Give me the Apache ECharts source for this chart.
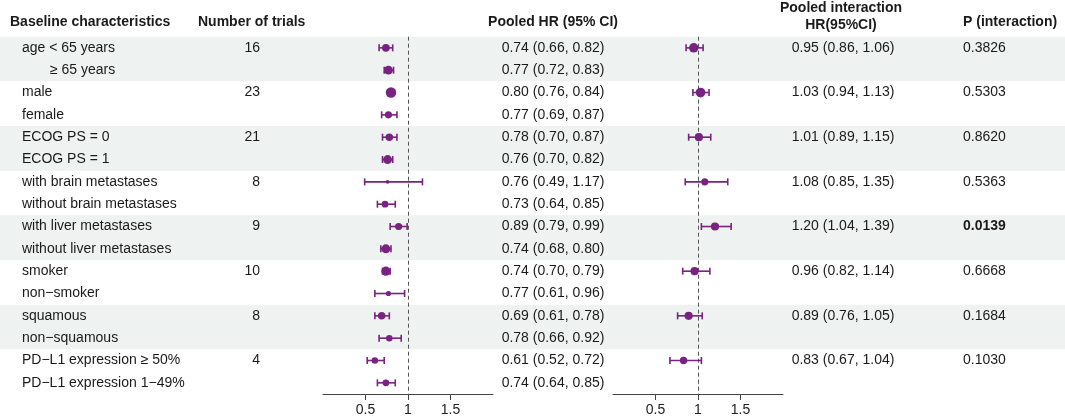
<!DOCTYPE html>
<html>
<head>
<meta charset="utf-8">
<script src="https://cdn.jsdelivr.net/npm/echarts@6/dist/echarts.min.js"></script>
<style>
html,body{margin:0;padding:0;background:#fff;}
#chart{width:1065px;height:419px;}
</style>
</head>
<body>
<div id="chart"></div>
<script>
// ---------------- data ----------------
const labels = ['age < 65 years','≥ 65 years','male','female','ECOG PS = 0','ECOG PS = 1',
  'with brain metastases','without brain metastases','with liver metastases','without liver metastases',
  'smoker','non\u2212smoker','squamous','non\u2212squamous','PD\u2212L1 expression ≥ 50%','PD\u2212L1 expression 1\u221249%'];
const trials = [16,null,23,null,21,null,8,null,9,null,10,null,8,null,4,null];
const pooledHR = [0.74,0.77,0.80,0.77,0.78,0.76,0.76,0.73,0.89,0.74,0.74,0.77,0.69,0.78,0.61,0.74];
const pooledLo = [0.66,0.72,0.76,0.69,0.70,0.70,0.49,0.64,0.79,0.68,0.70,0.61,0.61,0.66,0.52,0.64];
const pooledHi = [0.82,0.83,0.84,0.87,0.87,0.82,1.17,0.85,0.99,0.80,0.79,0.96,0.78,0.92,0.72,0.85];
const pooledWeight = [0.78,0.88,1.04,0.72,0.75,0.88,0.38,0.68,0.72,0.9,0.92,0.52,0.75,0.65,0.65,0.68];
const interactionRows = [0,2,4,6,8,10,12,14];
const interactionHR = [0.95,1.03,1.01,1.08,1.20,0.96,0.89,0.83];
const interactionLo = [0.86,0.94,0.89,0.85,1.04,0.82,0.76,0.67];
const interactionHi = [1.06,1.13,1.15,1.35,1.39,1.14,1.05,1.04];
const interactionWeight = [0.95,0.97,0.82,0.72,0.82,0.82,0.82,0.74];
const pInteraction = ['0.3826','0.5303','0.8620','0.5363','0.0139','0.6668','0.1684','0.1030'];
const shadedGroups = [0,4,8,12];
const tickValues = [0.5,1,1.5];

// ---------------- style ----------------
const PURPLE = '#78237f';
const TXT = '#1a1a1a';
const FONT = "'Liberation Sans', Arial, sans-serif";
const FS = 14;
const W = 1065;
const nRows = labels.length;
const GTOP = 36.7, GH = 357.3;

const fmt = v => v.toFixed(2);
const ci = (h,l,u) => fmt(h) + ' (' + fmt(l) + ', ' + fmt(u) + ')';

const chart = echarts.init(document.getElementById('chart'), null, {renderer:'canvas'});

function yAx(gi){ return {type:'value', gridIndex:gi, min:-0.5, max:nRows-0.5, inverse:true, show:false}; }
function forestX(gi){
  return {type:'value', gridIndex:gi, min:0, max:2, interval:0.5, position:'bottom',
    axisLine:{show:true, onZero:false, lineStyle:{color:'#444', width:1}},
    axisTick:{show:true, customValues:tickValues, length:6, lineStyle:{color:'#444'}},
    axisLabel:{show:true, customValues:tickValues, fontSize:FS, fontFamily:FONT, color:'#222', margin:9},
    splitLine:{show:false}};
}

function textSeries(name, rows, texts, xPos, align, weightFn){
  return {
    type:'custom', name, xAxisIndex:0, yAxisIndex:0, z:5, silent:true,
    data: rows.map(r => [0, r]),
    encode:{x:0, y:1},
    renderItem:(params, api) => {
      const i = params.dataIndex;
      const t = texts[i];
      if (t === null || t === undefined || t === '') return null;
      const p = api.coord([xPos(i), api.value(1)]);
      return {type:'text', style:{text:String(t), x:p[0], y:p[1], textAlign:align, textVerticalAlign:'middle',
        fontSize:FS, fontFamily:FONT, fontWeight: weightFn ? weightFn(i) : 'normal', fill:TXT}};
    }
  };
}

function errorSeries(gi, rows, lo, hi){
  return {
    type:'custom', xAxisIndex:gi, yAxisIndex:gi, z:6, silent:true,
    data: rows.map((r,i) => [lo[i], hi[i], r]),
    encode:{x:[0,1], y:2},
    renderItem:(params, api) => {
      const a = api.coord([api.value(0), api.value(2)]);
      const b = api.coord([api.value(1), api.value(2)]);
      const c = 3.5;
      const st = {stroke:PURPLE, lineWidth:1.6};
      return {type:'group', children:[
        {type:'line', shape:{x1:a[0], y1:a[1], x2:b[0], y2:b[1]}, style:st},
        {type:'line', shape:{x1:a[0], y1:a[1]-c, x2:a[0], y2:a[1]+c}, style:st},
        {type:'line', shape:{x1:b[0], y1:b[1]-c, x2:b[0], y2:b[1]+c}, style:st}
      ]};
    }
  };
}

function pointSeries(gi, rows, hr, weight){
  return {
    type:'scatter', xAxisIndex:gi, yAxisIndex:gi, z:7, silent:true,
    data: rows.map((r,i) => [hr[i], r, weight[i]]),
    symbol:'circle',
    symbolSize: v => v[2]*10,
    itemStyle:{color:PURPLE, opacity:1},
    markLine:{silent:true, symbol:['none','none'], label:{show:false},
      lineStyle:{type:[4,3], color:'#555', width:1}, data:[{xAxis:1}], animation:false}
  };
}

const allRows = labels.map((_,i) => i);

const option = {
  animation:false,
  backgroundColor:'#fff',
  grid:[
    {left:0, width:W, top:GTOP, height:GH},
    {left:323, width:170, top:GTOP, height:GH},
    {left:613, width:170, top:GTOP, height:GH}
  ],
  xAxis:[
    {type:'value', gridIndex:0, min:0, max:W, show:false},
    forestX(1),
    forestX(2)
  ],
  yAxis:[yAx(0), yAx(1), yAx(2)],
  graphic:[
    {type:'text', left:10, top:15, style:{text:'Baseline characteristics', fontSize:FS, fontWeight:'bold', fontFamily:FONT, fill:TXT}},
    {type:'text', left:198, top:15, style:{text:'Number of trials', fontSize:FS, fontWeight:'bold', fontFamily:FONT, fill:TXT}},
    {type:'text', x:553, y:22, style:{text:'Pooled HR (95% CI)', textAlign:'center', textVerticalAlign:'middle', fontSize:FS, fontWeight:'bold', fontFamily:FONT, fill:TXT}},
    {type:'text', x:841, y:8.5, style:{text:'Pooled interaction', textAlign:'center', textVerticalAlign:'middle', fontSize:FS, fontWeight:'bold', fontFamily:FONT, fill:TXT}},
    {type:'text', x:841, y:25.5, style:{text:'HR(95%CI)', textAlign:'center', textVerticalAlign:'middle', fontSize:FS, fontWeight:'bold', fontFamily:FONT, fill:TXT}},
    {type:'text', left:963, top:15, style:{text:'P (interaction)', fontSize:FS, fontWeight:'bold', fontFamily:FONT, fill:TXT}}
  ],
  series:[
    // shaded bands
    {
      type:'custom', xAxisIndex:0, yAxisIndex:0, z:0, silent:true,
      data: shadedGroups.map(r => [0, r]),
      encode:{x:0, y:1},
      renderItem:(params, api) => {
        const p = api.coord([0, api.value(1)]);
        const h = api.size([0,1])[1];
        return {type:'rect', shape:{x:0, y:p[1]-h/2, width:W, height:2*h}, style:{fill:'#eef2f0'}};
      }
    },
    textSeries('labels', allRows, labels, i => labels[i].charAt(0) === '≥' ? 50 : 22, 'left'),
    textSeries('trials', allRows, trials, () => 260, 'right'),
    textSeries('pooled', allRows, allRows.map(i => ci(pooledHR[i], pooledLo[i], pooledHi[i])), () => 553, 'center'),
    textSeries('interaction', interactionRows, interactionRows.map((r,i) => ci(interactionHR[i], interactionLo[i], interactionHi[i])), () => 843, 'center'),
    textSeries('p', interactionRows, pInteraction, () => 963, 'left', i => parseFloat(pInteraction[i]) < 0.05 ? 'bold' : 'normal'),
    errorSeries(1, allRows, pooledLo, pooledHi),
    pointSeries(1, allRows, pooledHR, pooledWeight),
    errorSeries(2, interactionRows, interactionLo, interactionHi),
    pointSeries(2, interactionRows, interactionHR, interactionWeight)
  ]
};
chart.setOption(option);
</script>
</body>
</html>
